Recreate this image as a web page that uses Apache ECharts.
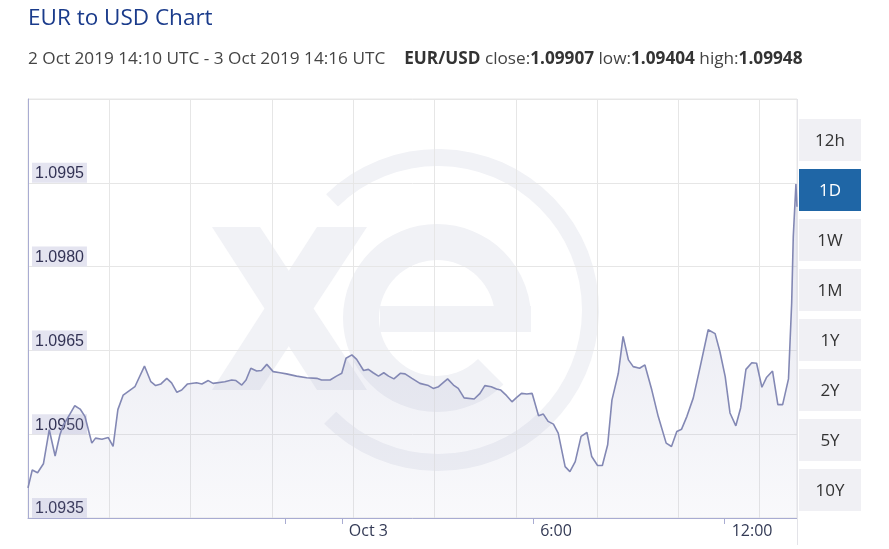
<!DOCTYPE html>
<html>
<head>
<meta charset="utf-8">
<script src="https://cdn.jsdelivr.net/npm/echarts@6/dist/echarts.min.js"></script>
<style>
html,body{margin:0;padding:0;background:#fff;}
#chart{width:889px;height:549px;}
</style>
</head>
<body>
<div id="chart"></div>
<script>
// ---- data (UTC, day-of-October + time) ----
const times = ['02 14:10','02 14:18','02 14:28','02 14:39','02 14:50','02 15:01','02 15:10','02 15:16','02 15:38','02 15:48','02 15:57','02 16:10','02 16:17','02 16:29','02 16:41','02 16:50','02 16:59','02 17:09','02 17:22','02 17:31','02 17:49','02 18:01','02 18:10','02 18:20','02 18:31','02 18:40','02 18:50','02 18:59','02 19:10','02 19:27','02 19:37','02 19:49','02 19:58','02 20:20','02 20:33','02 20:41','02 20:52','02 21:00','02 21:09','02 21:20','02 21:29','02 21:39','02 21:51','02 22:04','02 22:16','02 22:35','02 22:54','02 23:13','02 23:22','02 23:38','02 23:50','03 00:00','03 00:08','03 00:19','03 00:28','03 00:41','03 00:50','03 00:59','03 01:09','03 01:19','03 01:28','03 01:38','03 01:50','03 01:59','03 02:12','03 02:27','03 02:43','03 02:52','03 03:02','03 03:19','03 03:30','03 03:39','03 03:50','03 04:09','03 04:20','03 04:29','03 04:41','03 04:51','03 04:59','03 05:10','03 05:20','03 05:29','03 05:38','03 05:48','03 05:58','03 06:10','03 06:19','03 06:28','03 06:38','03 06:47','03 07:00','03 07:09','03 07:19','03 07:30','03 07:41','03 07:50','03 08:01','03 08:10','03 08:20','03 08:28','03 08:40','03 08:49','03 08:59','03 09:08','03 09:20','03 09:30','03 09:43','03 09:55','03 10:10','03 10:20','03 10:30','03 10:39','03 10:49','03 11:01','03 11:14','03 11:29','03 11:42','03 11:51','03 12:01','03 12:10','03 12:21','03 12:30','03 12:40','03 12:51','03 13:00','03 13:10','03 13:19','03 13:30','03 13:40','03 13:49','03 14:00','03 14:06','03 14:09','03 14:14','03 14:16'];
const rates = [1.09404,1.09436,1.09431,1.09447,1.09508,1.09461,1.09499,1.09515,1.09551,1.09545,1.09532,1.09484,1.09493,1.09491,1.09494,1.09478,1.09544,1.09570,1.09579,1.09585,1.09622,1.09594,1.09587,1.09590,1.09600,1.09592,1.09575,1.09579,1.09590,1.09592,1.09590,1.09596,1.09591,1.09594,1.09597,1.09596,1.09588,1.09597,1.09618,1.09613,1.09614,1.09625,1.09612,1.09610,1.09608,1.09604,1.09601,1.09600,1.09597,1.09597,1.09604,1.09609,1.09636,1.09642,1.09634,1.09614,1.09616,1.09610,1.09604,1.09610,1.09604,1.09599,1.09609,1.09608,1.09600,1.09591,1.09587,1.09582,1.09585,1.09599,1.09588,1.09582,1.09565,1.09563,1.09573,1.09587,1.09585,1.09581,1.09579,1.09569,1.09558,1.09566,1.09573,1.09572,1.09573,1.09533,1.09536,1.09523,1.09518,1.09502,1.09442,1.09433,1.09451,1.09496,1.09503,1.09460,1.09444,1.09444,1.09481,1.09561,1.09609,1.09675,1.09633,1.09621,1.09618,1.09624,1.09579,1.09532,1.09484,1.09478,1.09505,1.09509,1.09532,1.09565,1.09621,1.09687,1.09680,1.09648,1.09603,1.09538,1.09515,1.09547,1.09616,1.09628,1.09627,1.09584,1.09602,1.09613,1.09553,1.09553,1.09599,1.09735,1.09854,1.09948,1.09907];
const rangeStart = '02 14:10';
const rangeEnd = '03 14:16';
const xTickLabels = ['Oct 3', '6:00', '12:00'];
const xTickTimes = ['03 00:00', '03 06:00', '03 12:00'];
const xExtraTicks = ['02 22:13'];
const yMin = 1.0935, yMax = 1.1010, yStep = 0.0015;
const buttons = ['12h', '1D', '1W', '1M', '1Y', '2Y', '5Y', '10Y'];
const activeButton = '1D';
const titleText = 'EUR to USD Chart';
const rangeText = '2 Oct 2019 14:10 UTC - 3 Oct 2019 14:16 UTC';
const pairText = 'EUR/USD';
const stats = [['close', '1.09907'], ['low', '1.09404'], ['high', '1.09948']];

function toMs(s) {
  const d = parseInt(s.slice(0, 2), 10);
  const h = parseInt(s.slice(3, 5), 10);
  const m = parseInt(s.slice(6, 8), 10);
  return Date.UTC(2019, 9, d, h, m);
}

const seriesData = times.map((t, i) => [toMs(t), rates[i]]);
const labelMs = xTickTimes.map(toMs);
const tickMs = xExtraTicks.map(toMs).concat(labelMs);

const chart = echarts.init(document.getElementById('chart'), null, {renderer: 'canvas'});

const GRID_L = 28, GRID_T = 99, GRID_R = 797, GRID_B = 518;
const lav = '#a9acd2';
const wm = '#f1f2f6';

const graphics = [];
// watermark "xe" + ring
graphics.push({type: 'sector', z: -5, silent: true,
  shape: {cx: 438, cy: 310, r0: 144, r: 161, startAngle: -134 * Math.PI / 180, endAngle: 135 * Math.PI / 180, clockwise: true},
  style: {fill: wm}});
graphics.push({type: 'sector', z: -5, silent: true,
  shape: {cx: 437, cy: 318, r0: 58, r: 94, startAngle: 45 * Math.PI / 180, endAngle: 365 * Math.PI / 180, clockwise: true},
  style: {fill: wm}});
graphics.push({type: 'rect', z: -5, silent: true,
  shape: {x: 380, y: 306, width: 151, height: 26},
  style: {fill: wm}});
graphics.push({type: 'polygon', z: -5, silent: true,
  shape: {points: [[212, 227], [260, 227], [367, 390], [317, 390]]},
  style: {fill: wm}});
graphics.push({type: 'polygon', z: -5, silent: true,
  shape: {points: [[317, 227], [367, 227], [260, 390], [212, 390]]},
  style: {fill: wm}});
// right border extension
graphics.push({type: 'line', z: 1, silent: true,
  shape: {x1: GRID_R + 0.5, y1: GRID_T, x2: GRID_R + 0.5, y2: 545},
  style: {stroke: '#e3e3e8', lineWidth: 1}});
// range buttons
buttons.forEach((b, i) => {
  const active = b === activeButton;
  graphics.push({type: 'group', left: 799, top: 119 + i * 50, children: [
    {type: 'rect', shape: {x: 0, y: 0, width: 62, height: 42},
      style: {fill: active ? '#1f66a6' : '#f0f0f4'}},
    {type: 'text', x: 31, y: 22,
      style: {text: b, fill: active ? '#ffffff' : '#333333', font: '17px "Open Sans"', align: 'center', verticalAlign: 'middle'}}
  ]});
});

let richLine = '{n|' + rangeText + '}{g| }{b|' + pairText + '}';
stats.forEach(s => { richLine += '{n| ' + s[0] + ':}{b|' + s[1] + '}'; });

chart.setOption({
  animation: false,
  backgroundColor: '#ffffff',
  title: [
    {text: titleText, left: 28, top: 7, padding: 0,
      textStyle: {fontFamily: 'Open Sans', fontSize: 22.5, fontWeight: 'normal', color: '#1a3b8b'}},
    {text: richLine, left: 28, top: 51, padding: 0,
      textStyle: {fontWeight: 'normal', rich: {
        n: {fontFamily: 'Open Sans', fontSize: 17.2, fontWeight: 'normal', color: '#444444'},
        g: {fontFamily: 'Open Sans', fontSize: 17.2, fontWeight: 'normal', width: 19},
        b: {fontFamily: 'Open Sans', fontSize: 17.2, fontWeight: 'bold', color: '#333333'}
      }}}
  ],
  grid: {left: GRID_L, top: GRID_T, right: 889 - GRID_R, bottom: 549 - GRID_B,
    show: true, borderColor: '#e6e6e6', borderWidth: 1, backgroundColor: 'transparent'},
  xAxis: [{
    type: 'value', min: toMs(rangeStart), max: toMs(rangeEnd),
    axisLine: {show: true, lineStyle: {color: lav, width: 1}},
    axisTick: {show: true, length: 6, lineStyle: {color: lav}, customValues: tickMs},
    axisLabel: {show: true, customValues: labelMs, align: 'left', margin: 5, padding: [0, 0, 0, 7],
      fontFamily: 'Open Sans', fontSize: 16, color: '#333a55',
      formatter: v => { const k = labelMs.indexOf(v); return k >= 0 ? xTickLabels[k] : ''; }},
    splitLine: {show: false}
  }, {
    type: 'value', min: 0, max: (GRID_R - GRID_L) / 81.3, interval: 1, position: 'top',
    axisLine: {show: false}, axisTick: {show: false}, axisLabel: {show: false},
    splitLine: {show: true, lineStyle: {color: '#e6e6e6', width: 1}}
  }],
  yAxis: {
    type: 'value', min: yMin, max: yMax, interval: yStep,
    axisLine: {show: true, lineStyle: {color: lav, width: 1}},
    axisTick: {show: false},
    splitLine: {show: true, lineStyle: {color: '#e6e6e6', width: 1}},
    axisLabel: {inside: true, margin: 4, showMaxLabel: false, showMinLabel: true,
      verticalAlign: 'bottom', backgroundColor: '#e4e4f0', padding: [3, 3, 1, 3],
      fontFamily: 'Liberation Sans', fontSize: 16, color: '#333355',
      formatter: v => v.toFixed(4)}
  },
  series: [{
    type: 'line', xAxisIndex: 0, data: seriesData, showSymbol: false, smooth: false,
    lineStyle: {color: '#8388b4', width: 1.6},
    areaStyle: {color: new echarts.graphic.LinearGradient(0, 0, 0, 1, [
      {offset: 0, color: 'rgba(170,173,205,0.45)'},
      {offset: 1, color: 'rgba(170,173,205,0.10)'}
    ])},
    z: 2
  }],
  graphic: graphics
});
</script>
</body>
</html>
